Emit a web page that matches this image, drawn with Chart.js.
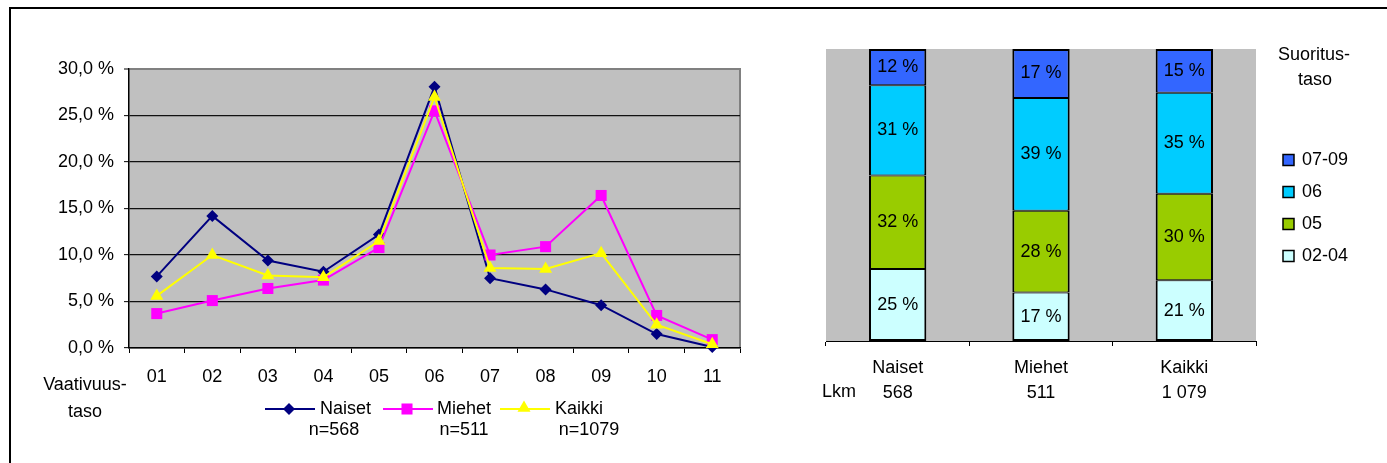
<!DOCTYPE html>
<html><head><meta charset="utf-8">
<script src="https://cdn.jsdelivr.net/npm/chart.js@4.4.0/dist/chart.umd.min.js"></script>
<style>
html,body{margin:0;padding:0;background:#fff;overflow:hidden;width:1387px;height:463px}
#frame{position:absolute;left:9px;top:7px;width:1400px;height:500px;border-left:2px solid #000;border-top:2px solid #000;box-sizing:border-box}
#c1{position:absolute;left:0;top:0}
#c2{position:absolute;left:780px;top:0}
</style></head><body>
<div id="frame"></div>
<canvas id="c1" width="780" height="463"></canvas>
<canvas id="c2" width="607" height="463"></canvas>
<script>
// ---- data: left line chart ----
const levels = ['01','02','03','04','05','06','07','08','09','10','11'];
const naiset = [7.7, 14.2, 9.4, 8.2, 12.2, 28.1, 7.5, 6.3, 4.6, 1.5, 0.1];
const miehet = [3.7, 5.1, 6.4, 7.3, 10.8, 25.5, 10.0, 10.9, 16.4, 3.5, 0.9];
const kaikki = [5.6, 10.0, 7.8, 7.6, 11.5, 27.0, 8.6, 8.5, 10.2, 2.5, 0.4];
const lineNames = ['Naiset', 'Miehet', 'Kaikki'];
const lineCounts = ['n=568', 'n=511', 'n=1079'];
const xTitle = ['Vaativuus-', 'taso'];

// ---- data: right stacked bars ----
const groups = ['Naiset', 'Miehet', 'Kaikki'];
const groupCounts = ['568', '511', '1 079'];
const countTitle = 'Lkm';
const levelGroups = ['02-04', '05', '06', '07-09'];
const share0204 = [24.7, 16.6, 20.8];
const share05 = [32.0, 28.0, 29.6];
const share06 = [30.9, 38.6, 34.6];
const share0709 = [12.4, 16.8, 15.0];
const legendTitle = ['Suoritus-', 'taso'];

const FONT = "'Liberation Sans', Arial, sans-serif";
const FS = 18;

// ---------- left chart ----------
const leftPlugin = {
  id: 'leftDeco',
  beforeDraw(chart) {
    const {ctx, chartArea: a} = chart;
    ctx.save();
    ctx.fillStyle = '#C0C0C0';
    ctx.fillRect(a.left, a.top, a.right - a.left, a.bottom - a.top);
    ctx.strokeStyle = '#808080';
    ctx.lineWidth = 2;
    ctx.beginPath();
    ctx.moveTo(a.right, a.top - 1);
    ctx.lineTo(a.right, a.bottom);
    ctx.stroke();
    ctx.restore();
  },
  afterDraw(chart) {
    const ctx = chart.ctx;
    ctx.save();
    ctx.font = FS + 'px ' + FONT;
    ctx.fillStyle = '#000';
    ctx.textBaseline = 'middle';
    ctx.textAlign = 'center';
    ctx.fillText(xTitle[0], 85, 385);
    ctx.fillText(xTitle[1], 85, 412);
    const xs = [265, 383, 500];
    const tx = [320, 437, 555];
    const nx = [334, 464, 589];
    chart.data.datasets.forEach((ds, i) => {
      const x0 = xs[i], y = 409;
      ctx.strokeStyle = ds.borderColor;
      ctx.lineWidth = 2;
      ctx.beginPath(); ctx.moveTo(x0, y); ctx.lineTo(x0 + 50, y); ctx.stroke();
      ctx.fillStyle = ds.pointBackgroundColor;
      ctx.strokeStyle = ds.pointBackgroundColor;
      Chart.helpers.drawPoint(ctx, {pointStyle: ds.pointStyle, rotation: 0, radius: ds.pointRadius, borderWidth: 0},
        x0 + 24, y - (ds.pointStyle === 'triangle' ? 1 : 0));
      ctx.fillStyle = '#000';
      ctx.textAlign = 'left';
      ctx.fillText(ds.label, tx[i], y);
      ctx.textAlign = 'center';
      ctx.fillText(lineCounts[i], nx[i], 430);
    });
    ctx.restore();
  }
};

function mk(label, data, color, style, r, order) {
  return {label, data, borderColor: color, backgroundColor: color,
    pointBackgroundColor: color, pointBorderColor: color, pointStyle: style,
    pointRadius: r, pointHoverRadius: r, borderWidth: 2, pointBorderWidth: 0,
    tension: 0, clip: false, order};
}
const ds1 = [
  mk(lineNames[0], naiset, '#000080', 'rectRot', 6, 2),
  mk(lineNames[1], miehet, '#FF00FF', 'rect', 7.8, 1),
  mk(lineNames[2], kaikki, '#FFFF00', 'triangle', 7.5, 0)
];

new Chart(document.getElementById('c1'), {
  type: 'line',
  data: {labels: levels, datasets: ds1},
  options: {
    responsive: false, animation: false, devicePixelRatio: 1,
    layout: {padding: {left: 0, right: 40, top: 69, bottom: 75}},
    plugins: {legend: {display: false}, tooltip: {enabled: false}},
    scales: {
      x: {
        offset: true,
        grid: {offset: true, drawOnChartArea: false, color: '#000', tickLength: 5, lineWidth: 1},
        border: {color: '#000', width: 1.5},
        ticks: {font: {family: FONT, size: FS}, color: '#000', padding: 13, maxRotation: 0, autoSkip: false},
        afterFit(s) { s.height = 40; }
      },
      y: {
        min: 0, max: 30,
        ticks: {stepSize: 5, font: {family: FONT, size: FS}, color: '#000', padding: 10,
          callback: v => v.toFixed(1).replace('.', ',') + ' %'},
        grid: {
          color: c => (c.tick && c.tick.value === 30) ? '#808080' : '#111',
          lineWidth: c => (c.tick && c.tick.value === 30) ? 2 : 1.3,
          tickColor: '#000', tickWidth: 1, tickLength: 5
        },
        border: {color: '#000', width: 1.5},
        afterFit(s) { s.width = 129; }
      }
    }
  },
  plugins: [leftPlugin]
});

// ---------- right chart ----------
const barColors = ['#CCFFFF', '#99CC00', '#00CCFF', '#3366FF'];
const barSeries = [share0204, share05, share06, share0709];

const rightPlugin = {
  id: 'rightDeco',
  beforeDraw(chart) {
    const {ctx, chartArea: a} = chart;
    ctx.save();
    ctx.fillStyle = '#C0C0C0';
    ctx.fillRect(a.left, a.top, a.right - a.left, a.bottom - a.top);
    ctx.restore();
  },
  afterDatasetsDraw(chart) {
    const ctx = chart.ctx;
    ctx.save();
    ctx.font = FS + 'px ' + FONT;
    ctx.fillStyle = '#000';
    ctx.textAlign = 'center';
    ctx.textBaseline = 'middle';
    chart.data.datasets.forEach((ds, i) => {
      chart.getDatasetMeta(i).data.forEach((el, j) => {
        ctx.fillText(Math.round(ds.data[j]) + ' %', el.x, (el.y + el.base) / 2);
      });
    });
    ctx.restore();
  },
  afterDraw(chart) {
    const ctx = chart.ctx;
    ctx.save();
    ctx.font = FS + 'px ' + FONT;
    ctx.fillStyle = '#000';
    ctx.textBaseline = 'middle';
    ctx.textAlign = 'left';
    ctx.fillText(countTitle, 42, 392);
    ctx.textAlign = 'center';
    ctx.fillText(legendTitle[0], 534, 55);
    ctx.fillText(legendTitle[1], 535, 80);
    const n = chart.data.datasets.length;
    for (let k = 0; k < n; k++) {
      const ds = chart.data.datasets[n - 1 - k];
      const cy = 160 + k * 32;
      ctx.fillStyle = ds.backgroundColor;
      ctx.fillRect(503, cy - 5.5, 11, 11);
      ctx.strokeStyle = '#000';
      ctx.lineWidth = 1.5;
      ctx.strokeRect(503, cy - 5.5, 11, 11);
      ctx.fillStyle = '#000';
      ctx.textAlign = 'left';
      ctx.fillText(ds.label, 522, cy);
    }
    ctx.restore();
  }
};

const nSeg = barSeries.length;
new Chart(document.getElementById('c2'), {
  type: 'bar',
  data: {
    labels: groups.map((g, i) => [g, groupCounts[i]]),
    datasets: barSeries.map((d, i) => ({
      label: levelGroups[i], data: d, backgroundColor: barColors[i],
      borderColor: '#000',
      borderWidth: {left: 2, right: 2, top: i === nSeg - 1 ? 2 : 1, bottom: i === 0 ? 2 : 1},
      borderSkipped: false,
      barPercentage: 0.4, categoryPercentage: 1
    }))
  },
  options: {
    responsive: false, animation: false, devicePixelRatio: 1,
    layout: {padding: {left: 46, right: 131, top: 49, bottom: 62}},
    plugins: {legend: {display: false}, tooltip: {enabled: false}},
    scales: {
      x: {
        stacked: true, offset: true,
        grid: {offset: true, drawOnChartArea: false, color: '#000', tickLength: 5, lineWidth: 1},
        border: {color: '#000', width: 1},
        ticks: {font: {family: FONT, size: FS, lineHeight: 1.4}, color: '#000', padding: 9, maxRotation: 0},
        afterFit(s) { s.height = 60; }
      },
      y: {stacked: true, min: 0, max: 100, display: false}
    }
  },
  plugins: [rightPlugin]
});
</script>
</body></html>
